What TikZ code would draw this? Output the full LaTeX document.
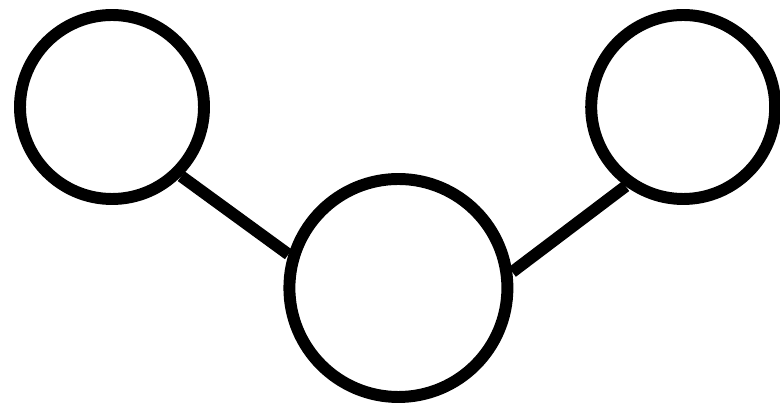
\documentclass[tikz,border=0pt]{standalone}
\usetikzlibrary{calc}
\begin{document}
\begin{tikzpicture}[ring/.style={draw,circle,line width=8.5pt,inner sep=0pt},link/.style={line width=8.5pt}]
\useasboundingbox (0,0) rectangle (19.5,10.225);
\node[ring,minimum size=4.6cm] (left) at (2.8,7.55){};\node[ring,minimum size=5.45cm] (mid) at (9.96,3.025){};\node[ring,minimum size=4.6cm] (right) at (17.08,7.55){};
\draw[link] (left.-45)--(mid.163);\draw[link] (mid.8)--(right.234);
\end{tikzpicture}
\end{document}
